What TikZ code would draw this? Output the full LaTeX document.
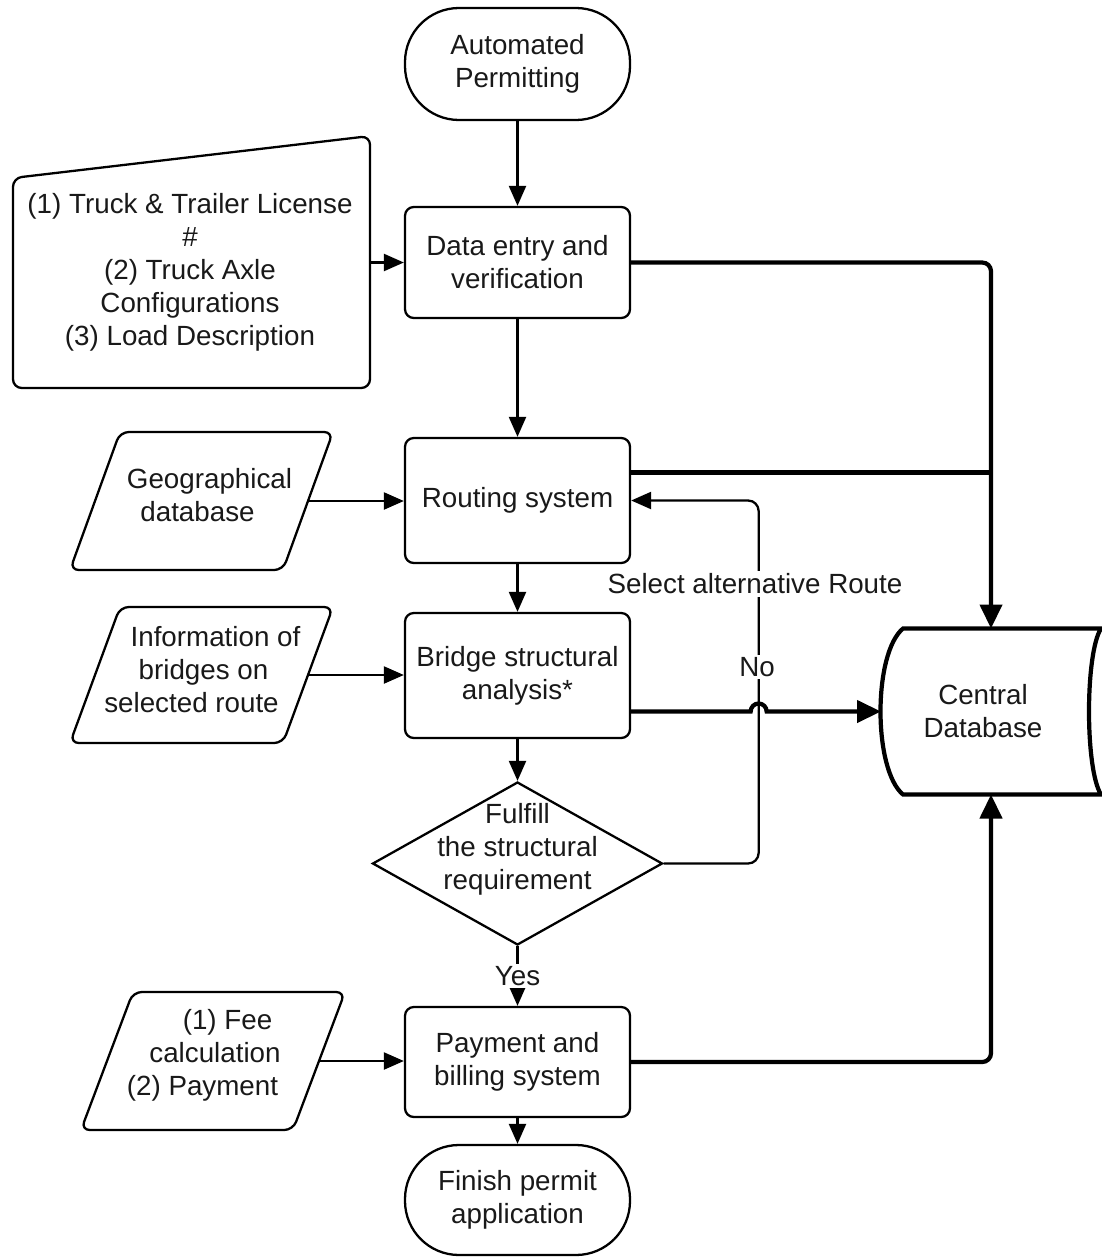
\documentclass[tikz,border=0pt]{standalone}
\usepackage{fontspec}
\setmainfont{Liberation Sans}
\usetikzlibrary{arrows.meta,calc,shapes.geometric}
\tikzset{
  box/.style={draw,line width=1.3pt,rounded corners=5pt,minimum width=4.5cm,align=center,inner sep=2pt},
  term/.style={box,rounded corners=1.08cm},
  frame/.style={inner sep=0pt,outer sep=0pt},
  outline/.style={line width=1.3pt,rounded corners=5pt},
  decision/.style={draw,line width=1.3pt,diamond,inner sep=0pt,minimum width=5.8cm,minimum height=3.26cm},
  flow/.style={line width=1.3pt,-{Triangle[length=0.4cm,width=0.34cm]}},
  bus/.style={line width=2.4pt,rounded corners=5pt},
  busarrow/.style={bus,-{Triangle[length=0.48cm,width=0.44cm]}},
  lbl/.style={fill=white,inner sep=1.5pt}
}

\begin{document}
\begin{tikzpicture}[font=\fontsize{15.8pt}{18.8pt}\selectfont,text=black!90]
  \useasboundingbox (0,0) rectangle (22.02,-25.14);
  % main column
  \node[term,minimum height=2.24cm] (start) at (10.35,-1.28) {Automated\\Permitting};
  \node[box,minimum height=2.22cm] (data) at (10.35,-5.25) {Data entry and\\verification};
  \node[box,minimum height=2.5cm] (routing) at (10.35,-10.01) {Routing system};
  \node[box,minimum height=2.5cm] (bridge) at (10.35,-13.51) {Bridge structural\\analysis*};
  \node[decision,label={[yshift=0.28cm,align=center]center:Fulfill\\the structural\\requirement}] (check) at (10.35,-17.27) {};
  \node[box,minimum height=2.2cm] (pay) at (10.35,-21.24) {Payment and\\billing system};
  \node[term,minimum height=2.2cm] (finish) at (10.35,-24.0) {Finish permit\\application};

  % inputs on the left
  \node[frame,minimum width=7.14cm,minimum height=5.04cm] (lic) at (3.83,-5.24) {};
  \draw[outline] (lic.south west) -- ($(lic.north west)+(0,-0.84)$)
    -- (lic.north east) -- (lic.south east) -- cycle;
  \node[align=center] (lictext) at ($(lic)+(-0.03,-0.21)$)
    {(1) Truck \& Trailer License\\\#\\(2) Truck Axle\\Configurations\\(3) Load Description};

  \node[frame,minimum width=5.26cm,minimum height=2.76cm] (geo) at (4.03,-10.02) {};
  \draw[outline] (geo.south west) -- ($(geo.north west)+(1,0)$) -- (geo.north east)
    -- ($(geo.south east)+(-1,0)$) -- cycle;
  \node[align=center] (geotext) at ($(geo)+(0.04,0.12)$) {\hspace*{0.24cm}Geographical\\database\hspace*{0.24cm}};

  \node[frame,minimum width=5.26cm,minimum height=2.72cm] (bridgeinfo) at (4.03,-13.5) {};
  \draw[outline] (bridgeinfo.south west) -- ($(bridgeinfo.north west)+(1,0)$) -- (bridgeinfo.north east)
    -- ($(bridgeinfo.south east)+(-1,0)$) -- cycle;
  \node[align=center] (bridgeinfotext) at ($(bridgeinfo)+(0.04,0.1)$) {\hspace*{0.48cm}Information of\\bridges on\\selected route\hspace*{0.48cm}};

  \node[frame,minimum width=5.28cm,minimum height=2.76cm] (fee) at (4.26,-21.22) {};
  \draw[outline] (fee.south west) -- ($(fee.north west)+(1.04,0)$) -- (fee.north east)
    -- ($(fee.south east)+(-1.04,0)$) -- cycle;
  \node[align=center] (feetext) at ($(fee)+(0.04,0.12)$) {\hspace*{0.5cm}(1) Fee\\calculation\\(2) Payment\hspace*{0.5cm}};

  % central database
  \node[frame,minimum width=4.4cm,minimum height=3.32cm,align=center] (db) at (19.82,-14.23)
    {Central\hspace*{0.32cm}\\Database\hspace*{0.32cm}};
  \draw[line width=2.4pt] ($(db.north west)+(0.44,0)$) -- (db.north east)
    .. controls +(-0.32,-0.5) and +(-0.32,0.5) .. (db.south east) -- ($(db.south west)+(0.44,0)$)
    .. controls +(-0.6,0.5) and +(-0.6,-0.5) .. ($(db.north west)+(0.44,0)$) -- cycle;

  % connectors
  \draw[flow] (start) -- (data);
  \draw[flow] (data) -- (routing);
  \draw[flow] (routing) -- (bridge);
  \draw[flow] (bridge) -- (check);
  \draw[flow] (check) -- node[lbl] (yes) {Yes} (pay);
  \draw[flow] (pay) -- (finish);
  \draw[flow] (lic.east |- data.west) -- (data.west);
  \draw[flow] ([xshift=-0.5cm]geo.east) -- (geo.east -| routing.west);
  \draw[flow] ([xshift=-0.5cm]bridgeinfo.east) -- (bridgeinfo.east -| bridge.west);
  \draw[flow] ([xshift=-0.52cm]fee.east) -- (fee.east -| pay.west);
  \draw[flow,rounded corners=6pt] (check.east) -- ++(1.9,0) coordinate (turn) |- (routing.east);
  \node[lbl] (alt) at (15.1,-11.68) {Select alternative Route};
  \node[lbl] (no) at (15.14,-13.34) {No};

  \draw[busarrow] (data.east) -| (db.north);
  \draw[bus] ([yshift=0.56cm]routing.east) -- ([yshift=0.56cm]routing.east -| db.north);
  \draw[busarrow,sharp corners] (bridge.east |- db.west) -- ([xshift=-0.16cm]turn |- db.west)
    arc[start angle=180,end angle=0,radius=0.16cm] -- (db.west);
  \draw[busarrow] (pay.east) -| (db.south);
\end{tikzpicture}
\end{document}
